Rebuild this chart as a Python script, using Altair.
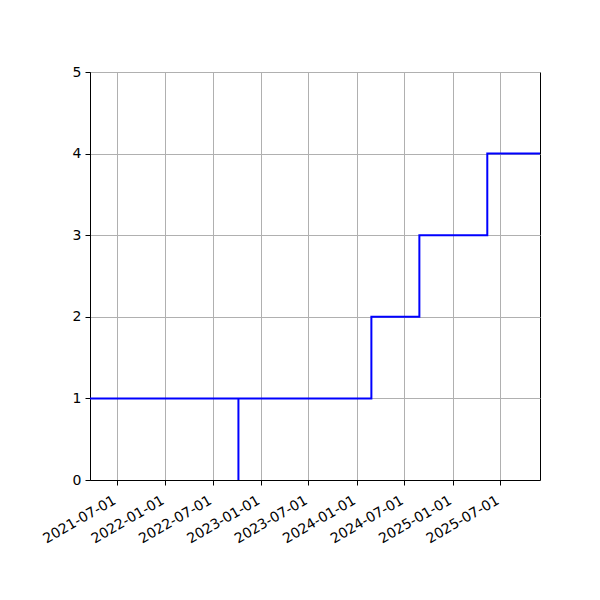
import altair as alt
import pandas as pd

# step data: dates where the count changes and the count from that date on
dates = ["2021-03-20", "2022-10-07", "2022-10-07", "2024-02-26",
         "2024-08-27", "2025-05-13", "2025-11-30"]
counts = [1, 0, 1, 2, 3, 4, 4]

tick_dates = ["2021-07-01", "2022-01-01", "2022-07-01", "2023-01-01",
              "2023-07-01", "2024-01-01", "2024-07-01", "2025-01-01",
              "2025-07-01"]
x_start, x_end = "2021-03-20", "2025-11-30"

data = pd.DataFrame({"date": dates, "count": counts, "i": range(len(dates))})


def dt(s):
    y, m, d = (int(p) for p in s.split("-"))
    return alt.DateTime(year=y, month=m, date=d)


line = alt.Chart(data).mark_line(
    interpolate="step-after", color="#0000ff", strokeWidth=2, clip=True
).encode(
    x=alt.X(
        "date:T",
        title=None,
        scale=alt.Scale(domain=[dt(x_start), dt(x_end)], nice=False),
        axis=alt.Axis(
            values=[dt(t) for t in tick_dates],
            format="%Y-%m-%d",
            labelAngle=330,
            labelAlign="right",
            labelBaseline="top",
            labelOffset=-6,
            labelPadding=8,
        ),
    ),
    y=alt.Y(
        "count:Q",
        title=None,
        scale=alt.Scale(domain=[0, 5], nice=False),
        axis=alt.Axis(values=[0, 1, 2, 3, 4, 5], labelPadding=4),
    ),
    order=alt.Order("i:Q"),
)

chart = (
    line.properties(
        width=450,
        height=408,
        autosize=alt.AutoSizeParams(type="none"),
        padding={"left": 82, "top": 64, "right": 52, "bottom": 112},
    )
    .configure_axis(
        labelFont="DejaVu Sans",
        labelFontSize=14,
        labelColor="black",
        domainColor="black",
        tickColor="black",
        tickSize=5,
        grid=True,
        gridColor="#b0b0b0",
        gridWidth=1,
        labelFlush=False,
        labelOverlap=False,
    )
    .configure_view(stroke="black", strokeWidth=1)
)

chart.save("out.html", embed_options={"renderer": "svg", "actions": False})
